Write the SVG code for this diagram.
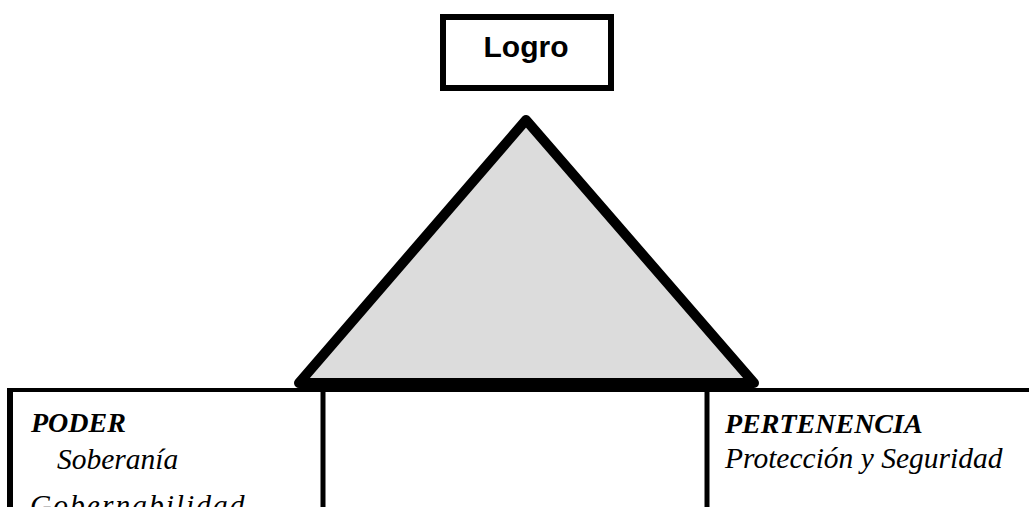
<svg xmlns="http://www.w3.org/2000/svg" width="1029" height="507" viewBox="0 0 1029 507">
  <style>
    .lbl { font-family: "Liberation Serif", "Times New Roman", serif; font-style: italic; font-size: 29.5px; fill: #000; }
    .head { font-weight: bold; font-size: 28px; }
    .frame { fill: none; stroke: #000; }
  </style>
  <rect width="1029" height="507" fill="#fff"/>

  <g id="connectors">
    <!-- shared top rule of the three lower boxes -->
    <line x1="7" y1="390" x2="1029" y2="390" stroke="#000" stroke-width="4"/>
  </g>

  <g id="logro">
    <rect class="frame" x="443" y="17" width="168" height="71" stroke-width="6"/>
    <text x="526" y="57" text-anchor="middle" font-family="Liberation Sans, Arial, sans-serif" font-weight="bold" font-size="30">Logro</text>
  </g>

  <g id="triangle">
    <polygon points="526,120 299,383 754,383" fill="#dcdcdc" stroke="#000" stroke-width="10" stroke-linejoin="round"/>
  </g>

  <g id="poder">
    <line x1="10" y1="388" x2="10" y2="507" stroke="#000" stroke-width="6"/>
    <line x1="323" y1="388" x2="323" y2="507" stroke="#000" stroke-width="5"/>
    <text class="lbl head" x="31" y="432">PODER</text>
    <text class="lbl" x="57" y="469">Soberanía</text>
    <text class="lbl" x="30" y="515" font-size="30" letter-spacing="2">Gobernabilidad</text>
  </g>

  <g id="centro">
    <line x1="707" y1="388" x2="707" y2="507" stroke="#000" stroke-width="5"/>
  </g>

  <g id="pertenencia">
    <text class="lbl head" x="725" y="433">PERTENENCIA</text>
    <text class="lbl" x="725" y="468">Protección y Seguridad</text>
  </g>
</svg>
